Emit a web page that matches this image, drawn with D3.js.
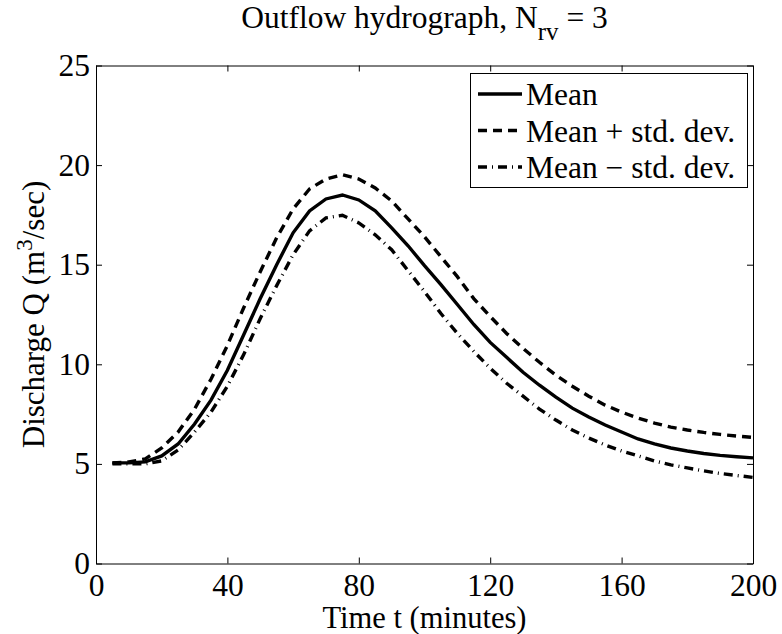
<!DOCTYPE html>
<html>
  <head>
    <title>Outflow hydrograph</title>
    <script src="https://d3js.org/d3.v7.min.js"></script>
    <style>
      body { margin: 0; background: white; }
      svg, text { font-family: "Liberation Serif", "Times New Roman", Times, serif; fill: black; }
      .axis path, .axis line { stroke: black; stroke-width: 1; }
    </style>
  </head>
  <body>
    <script>
      let width = 782, height = 634;
      let margin = { left: 96, right: 29, top: 65.5, bottom: 70.5 };

      // time in minutes
      let time = d3.range(5, 201, 5);
      let meanQ = [5.05, 5.05, 5.1, 5.4, 6.0, 7.0, 8.2, 9.7, 11.5, 13.3,
                   15.0, 16.6, 17.7, 18.3, 18.5, 18.25, 17.7, 16.85, 15.95, 14.95,
                   14.0, 13.0, 12.0, 11.1, 10.35, 9.6, 8.95, 8.35, 7.8, 7.35,
                   6.95, 6.6, 6.25, 6.0, 5.8, 5.65, 5.52, 5.43, 5.36, 5.3];
      let upperQ = [5.05, 5.1, 5.25, 5.8, 6.6, 7.75, 9.25, 10.95, 12.85, 14.65,
                    16.35, 17.8, 18.8, 19.3, 19.52, 19.3, 18.85, 18.2, 17.3, 16.4,
                    15.4, 14.4, 13.3, 12.4, 11.55, 10.8, 10.1, 9.45, 8.9, 8.4,
                    7.95, 7.6, 7.3, 7.05, 6.85, 6.7, 6.58, 6.48, 6.4, 6.33];
      let lowerQ = [5.0, 5.0, 5.0, 5.15, 5.7, 6.6, 7.6, 8.9, 10.5, 12.3,
                    13.95, 15.5, 16.7, 17.35, 17.48, 17.1, 16.5, 15.75, 14.7, 13.65,
                    12.55, 11.55, 10.65, 9.8, 9.05, 8.4, 7.75, 7.2, 6.7, 6.3,
                    5.95, 5.65, 5.4, 5.15, 4.95, 4.8, 4.65, 4.52, 4.42, 4.32];

      let xTicks = [0, 40, 80, 120, 160, 200];
      let yTicks = [0, 5, 10, 15, 20, 25];

      let series = [
        { name: "Mean", values: meanQ, dash: null },
        { name: "Mean + std. dev.", values: upperQ, dash: "9,6" },
        { name: "Mean \u2212 std. dev.", values: lowerQ, dash: "9,5,1,5" }
      ];

      let svg = d3.select("body").append("svg")
                  .attr("width", width)
                  .attr("height", height);

      let x = d3.scaleLinear().domain([0, 200]).range([margin.left, width - margin.right]);
      let y = d3.scaleLinear().domain([0, 25]).range([height - margin.bottom, margin.top]);

      let tickFont = 31.5;

      // axes, ticks pointing inward on all four sides
      svg.append("g").attr("class", "axis")
         .attr("transform", `translate(0, ${y(0)})`)
         .call(d3.axisBottom(x).tickValues(xTicks).tickSizeInner(-6).tickSizeOuter(0).tickPadding(10));
      svg.append("g").attr("class", "axis")
         .attr("transform", `translate(0, ${y(25)})`)
         .call(d3.axisTop(x).tickValues(xTicks).tickSizeInner(-6).tickSizeOuter(0).tickFormat(""));
      svg.append("g").attr("class", "axis")
         .attr("transform", `translate(${x(0)}, 0)`)
         .call(d3.axisLeft(y).tickValues(yTicks).tickSizeInner(-6).tickSizeOuter(0).tickPadding(6));
      svg.append("g").attr("class", "axis")
         .attr("transform", `translate(${x(200)}, 0)`)
         .call(d3.axisRight(y).tickValues(yTicks).tickSizeInner(-6).tickSizeOuter(0).tickFormat(""));

      svg.selectAll(".axis").attr("font-family", null);
      svg.selectAll(".axis text").attr("font-size", tickFont);

      // curves
      let line = d3.line()
                   .x((d, i) => x(time[i]))
                   .y(d => y(d));

      svg.append("clipPath").attr("id", "plot-clip")
         .append("rect")
         .attr("x", x(0)).attr("y", y(25))
         .attr("width", x(200) - x(0)).attr("height", y(0) - y(25));

      svg.append("g").attr("clip-path", "url(#plot-clip)")
         .selectAll("path").data(series)
         .enter().append("path")
         .attr("d", d => line(d.values))
         .attr("fill", "none")
         .attr("stroke", "black")
         .attr("stroke-width", 3.4)
         .attr("stroke-dasharray", d => d.dash);

      // title
      let title = svg.append("text")
                     .attr("x", (x(0) + x(200)) / 2)
                     .attr("y", 28)
                     .attr("text-anchor", "middle")
                     .attr("font-size", 31.5);
      title.append("tspan").text("Outflow hydrograph, N");
      title.append("tspan").attr("dy", 12).attr("font-size", 25).text("rv");
      title.append("tspan").attr("dy", -12).text(" = 3");

      // axis labels
      svg.append("text")
         .attr("x", (x(0) + x(200)) / 2)
         .attr("y", 628)
         .attr("text-anchor", "middle")
         .attr("font-size", 30.5)
         .text("Time t (minutes)");

      let ylab = svg.append("text")
                    .attr("transform", `translate(44, ${(y(0) + y(25)) / 2}) rotate(-90)`)
                    .attr("text-anchor", "middle")
                    .attr("font-size", 31);
      ylab.append("tspan").text("Discharge Q (m");
      ylab.append("tspan").attr("dy", -12).attr("font-size", 23).text("3");
      ylab.append("tspan").attr("dy", 12).text("/sec)");

      // legend
      let legend = svg.append("g").attr("class", "legend");
      legend.append("rect")
            .attr("x", 470.5).attr("y", 73.5)
            .attr("width", 277).attr("height", 114)
            .attr("fill", "white")
            .attr("stroke", "black")
            .attr("stroke-width", 1);

      let rows = legend.selectAll("g.row").data(series)
                       .enter().append("g").attr("class", "row")
                       .attr("transform", (d, i) => `translate(0, ${105 + i * 36.5})`);
      rows.append("line")
          .attr("x1", 478).attr("x2", 522)
          .attr("y1", -11).attr("y2", -11)
          .attr("stroke", "black")
          .attr("stroke-width", 3.4)
          .attr("stroke-dasharray", d => d.dash);
      rows.append("text")
          .attr("x", 526)
          .attr("y", 0)
          .attr("font-size", 31.5)
          .text(d => d.name);
    </script>
  </body>
</html>
